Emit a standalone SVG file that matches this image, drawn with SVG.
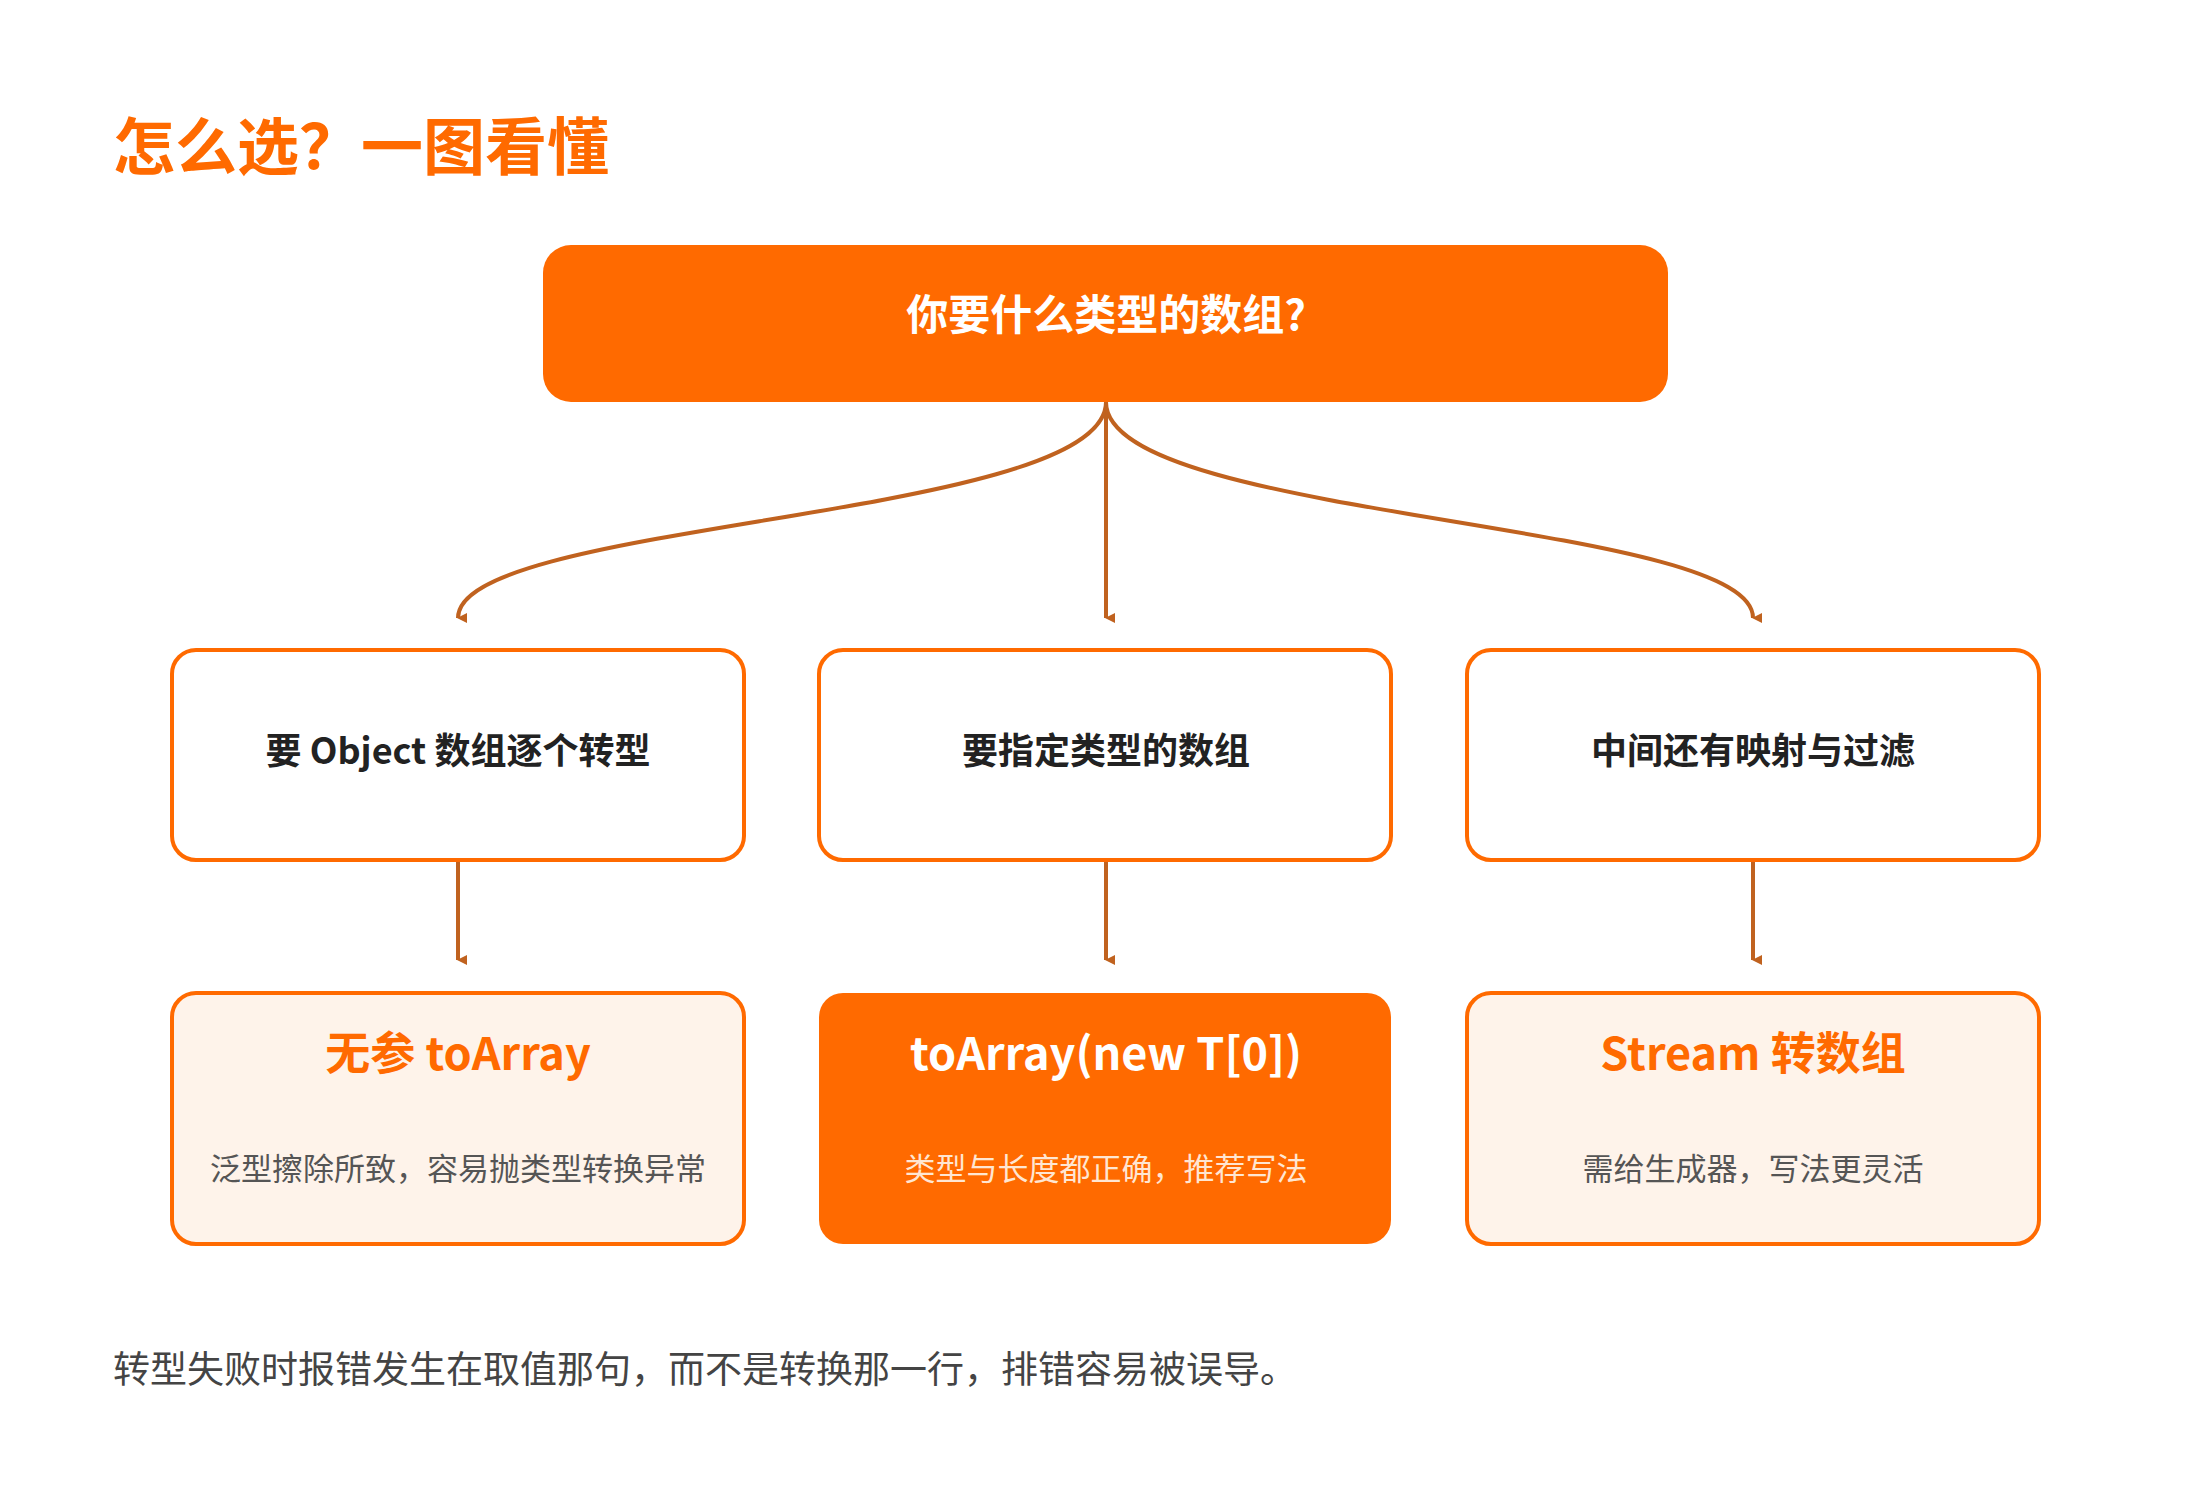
<svg xmlns="http://www.w3.org/2000/svg" width="2200" height="1488" viewBox="0 0 2200 1488">
<style>
text{font-family:"Noto Sans CJK SC","Noto Sans",sans-serif;text-anchor:middle}
.box{fill:#fff;stroke:#FF6A00;stroke-width:4}
.lt{fill:#FEF3EA;stroke:#FF6A00;stroke-width:4}
.q{font-size:36px;font-weight:bold;fill:#222}
.t{font-size:45px;font-weight:bold;fill:#FF6A00}
.s{font-size:31px;fill:#555}
.c{fill:none;stroke:#C0621F;stroke-width:4;marker-end:url(#a)}
</style>
<defs><marker id="a" markerWidth="10" markerHeight="10" refX="5" refY="9" orient="auto" markerUnits="userSpaceOnUse" viewBox="0 0 10 10"><path d="M0,0 L10,0 L5,10Z" fill="#C0621F" transform="rotate(0)"/></marker></defs>
<rect width="2200" height="1488" fill="#fff"/>
<text x="113" y="170" style="text-anchor:start;font-size:62px;font-weight:bold;fill:#FF6A00">怎么选？一图看懂</text>
<g id="connectors">
<path class="c" d="M1106,402 C1106,520 458,520 458,618"/>
<path class="c" d="M1106,402 L1106,618"/>
<path class="c" d="M1106,402 C1106,520 1753,520 1753,618"/>
<path class="c" d="M458,860 L458,960"/>
<path class="c" d="M1106,860 L1106,960"/>
<path class="c" d="M1753,860 L1753,960"/>
</g>
<style>marker path{}</style>
<g id="root"><rect x="543" y="245" width="1125" height="157" rx="28" fill="#FF6A00"/><text x="1106" y="330" style="font-size:42px;font-weight:bold;fill:#fff">你要什么类型的数组?</text></g>
<g id="q1"><rect class="box" x="172" y="650" width="572" height="210" rx="24"/><text class="q" x="458" y="764">要 Object 数组逐个转型</text></g>
<g id="q2"><rect class="box" x="819" y="650" width="572" height="210" rx="24"/><text class="q" x="1106" y="764">要指定类型的数组</text></g>
<g id="q3"><rect class="box" x="1467" y="650" width="572" height="210" rx="24"/><text class="q" x="1753" y="764">中间还有映射与过滤</text></g>
<g id="a1"><rect class="lt" x="172" y="993" width="572" height="251" rx="24"/><text class="t" x="458" y="1070">无参 toArray</text><text class="s" x="458" y="1180">泛型擦除所致，容易抛类型转换异常</text></g>
<g id="a2"><rect x="819" y="993" width="572" height="251" rx="24" fill="#FF6A00"/><text class="t" x="1106" y="1070" style="fill:#fff">toArray(new T[0])</text><text class="s" x="1106" y="1180" style="fill:#FFE6D2">类型与长度都正确，推荐写法</text></g>
<g id="a3"><rect class="lt" x="1467" y="993" width="572" height="251" rx="24"/><text class="t" x="1753" y="1070">Stream 转数组</text><text class="s" x="1753" y="1180">需给生成器，写法更灵活</text></g>
<text x="113" y="1383" style="text-anchor:start;font-size:37px;fill:#444">转型失败时报错发生在取值那句，而不是转换那一行，排错容易被误导。</text>
</svg>
